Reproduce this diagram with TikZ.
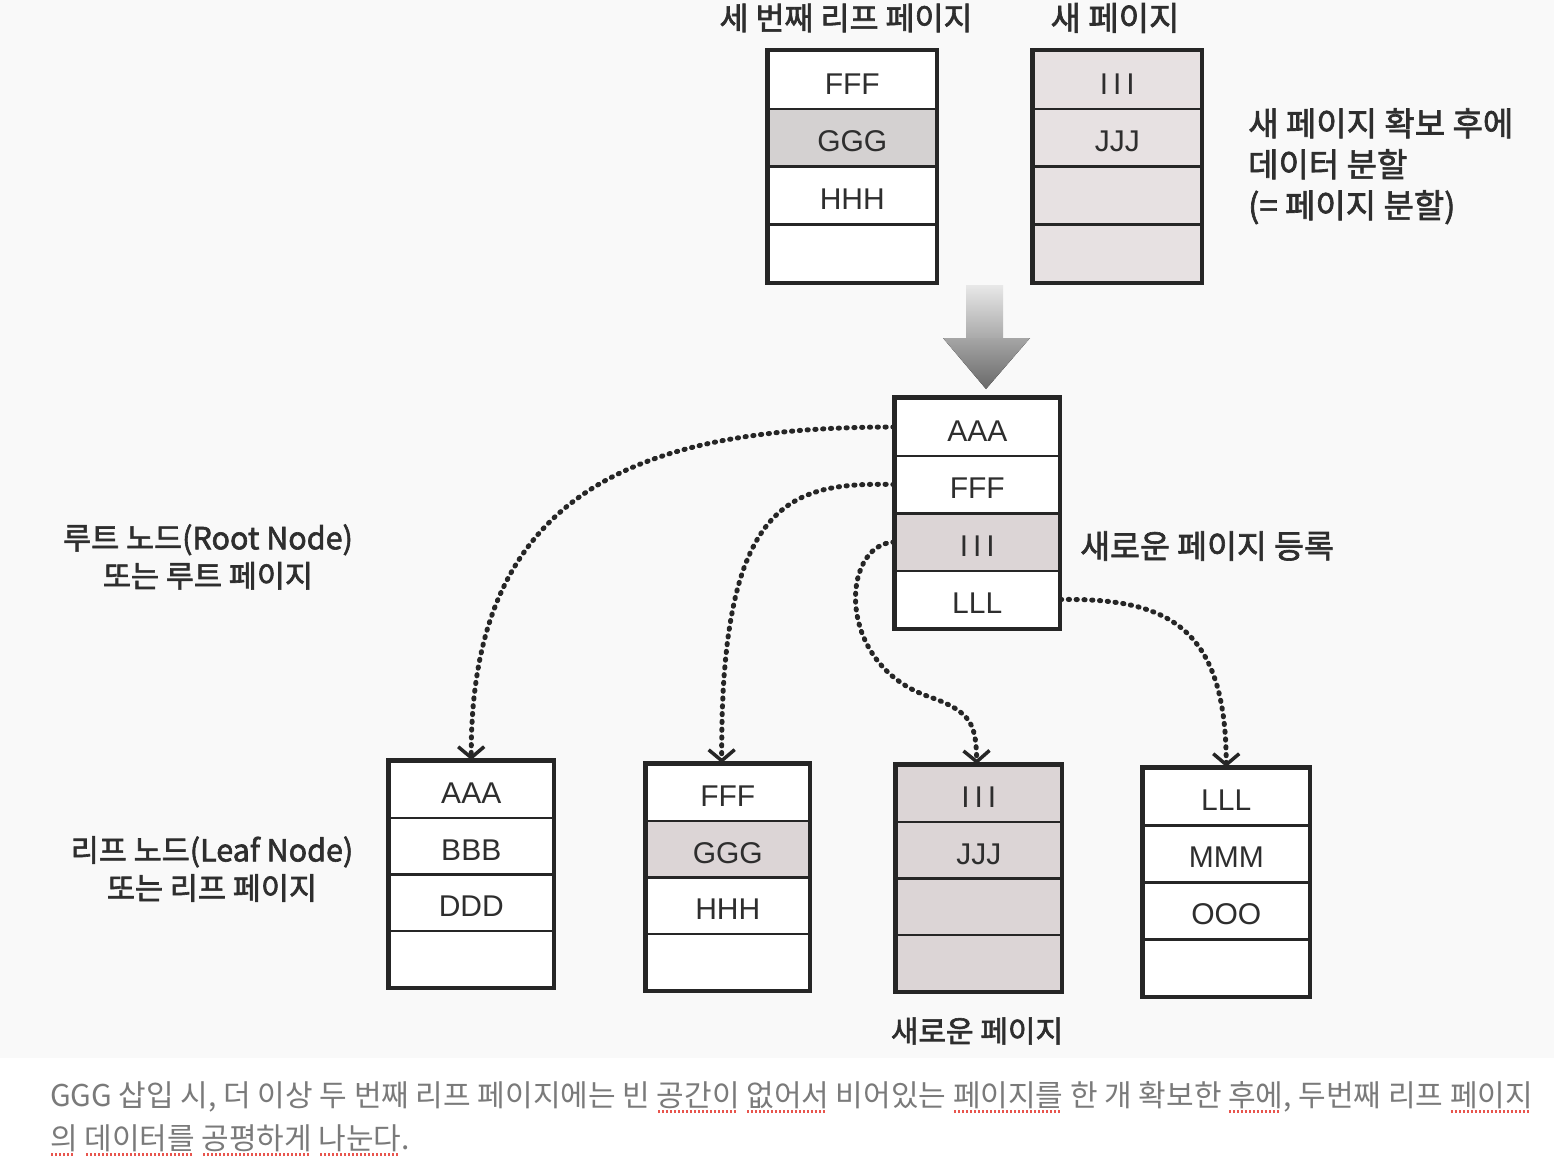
\documentclass[tikz,border=0pt]{standalone}
\usepackage{fontspec}
\usetikzlibrary{arrows.meta}
\setmainfont{Liberation Sans}
\newfontfamily\kr{Noto Sans CJK KR}
\newfontfamily\krb[FakeBold=2]{Noto Sans CJK KR}
\definecolor{ink}{HTML}{262626}
\definecolor{txt}{HTML}{2E2E2E}
\definecolor{gfill}{HTML}{D4D1D1}
\definecolor{pfill}{HTML}{E7E1E2}
\definecolor{pfilltwo}{HTML}{DCD5D6}
\definecolor{scan}{HTML}{F9F9F9}
\definecolor{capgray}{HTML}{7A7A7A}
\definecolor{spell}{HTML}{E8554E}
\newsavebox\rdubox
\newcommand\rdu[1]{\sbox\rdubox{#1}\rlap{\color{spell}\leaders\hbox{\kern1pt\rule[-7pt]{2pt}{2.6pt}\kern1pt}\hskip\wd\rdubox}\usebox\rdubox}
\newcommand\tripleI{I\kern5pt I\kern5pt I}
\newcommand\krsize[1]{\krb\fontsize{#1}{#1}\selectfont}
\tikzset{
  cell/.style={draw=ink, line width=2.5pt, inner sep=0pt, text=txt,
    text height=28pt, text depth=0pt,
    font=\fontsize{30}{30}\selectfont},
  outerbox/.style={draw=ink, line width=3.2pt},
  conn/.style={draw=ink, line width=5pt, line cap=round,
    dash pattern=on 1.2pt off 6.6pt,
    -{Straight Barb[length=11pt,width=26pt,line width=3.5pt]}},
  krlabel/.style={text=txt, inner sep=0pt, font=\krsize{31}},
}
% #1 name, #2 x, #3 y, #4 width, #5 row height, #6 list fill/label
\newcommand\pagebox[6]{%
  \foreach [count=\i] \f/\t in {#6} {
    \node[cell, fill=\f, minimum width=#4, minimum height=#5, anchor=north west]
      (#1-\i) at (#2, {#3+(\i-1)*#5}) {\t};
  }
  \draw[outerbox] (#1-1.north west) rectangle (#1-4.south east);
}
\begin{document}
\begin{tikzpicture}[x=1pt, y=-1pt]
\useasboundingbox (0,0) rectangle (1554,1166);
\fill[scan] (0,0) rectangle (1554,1058);
\fill[white] (0,1058) rectangle (1554,1166);

% top boxes
\node[krlabel, font=\krsize{31.5}] (ttl1) at (846,18) {세 번째 리프 페이지};
\node[krlabel, font=\krsize{33}] (ttl2) at (1115,18) {새 페이지};
\pagebox{t1}{767}{50}{168}{57.75}{white/FFF, gfill/GGG, white/HHH, white/}
\pagebox{t2}{1032}{50}{168}{57.75}{pfill/\tripleI, pfill/JJJ, pfill/, pfill/}
\node[krlabel, anchor=north west, align=left, font=\krb\fontsize{33}{41}\selectfont] (split) at (1248,108)
  {새 페이지 확보 후에\\데이터 분할\\(= 페이지 분할)};

% big arrow
\fill[top color=gray!18, bottom color=gray!68] (966,285) rectangle (1003,339);
\fill[top color=gray!70, bottom color=gray!82!black] (943,338) -- (1030,338) -- (986,389) -- cycle;

% root
\pagebox{r}{894}{397}{164}{57.5}{white/AAA, white/FFF, pfilltwo/\tripleI, white/LLL}
\node[krlabel, anchor=west, font=\krsize{32.5}] (reg) at (1080,546) {새로운 페이지 등록};

% left labels
\node[krlabel, align=center, font=\krb\fontsize{30.5}{38}\selectfont] (rootlbl) at (208,557) {루트 노드(Root Node)\\또는 루트 페이지};
\node[krlabel, align=center, font=\krb\fontsize{30.5}{38}\selectfont] (leaflbl) at (212,869) {리프 노드(Leaf Node)\\또는 리프 페이지};

% leaves
\pagebox{l1}{388}{760}{164}{56.5}{white/AAA, white/BBB, white/DDD, white/}
\pagebox{l2}{645}{763}{163}{56.5}{white/FFF, pfilltwo/GGG, white/HHH, white/}
\pagebox{l3}{895}{764}{165}{56.5}{pfilltwo/\tripleI, pfilltwo/JJJ, pfilltwo/, pfilltwo/}
\pagebox{l4}{1142}{767}{166}{57}{white/LLL, white/MMM, white/OOO, white/}
\node[krlabel, font=\krsize{30}] (newp) at (977,1031) {새로운 페이지};

% connectors
\draw[conn] (r-1.west) .. controls (640,427) and (470,490) .. (l1-1.north);
\draw[conn] (r-2.west) .. controls (790,482) and (720,500) .. ([xshift=-6pt]l2-1.north);
\draw[conn] (r-3.west) .. controls (840,545) and (835,665) .. (930,697)
  .. controls (972,712) and (976,725) .. ([xshift=-2pt]l3-1.north);
\draw[conn] (r-4.east) .. controls (1165,598) and (1226,625) .. (l4-1.north);

% caption
\node[anchor=base west, inner sep=0pt, text=capgray, font=\kr\fontsize{30}{30}\selectfont] (cap1) at (50,1106)
  {GGG 삽입 시, 더 이상 두 번째 리프 페이지에는 빈 \rdu{공간이} \rdu{없어서} 비어있는 \rdu{페이지를} 한 개 확보한 \rdu{후에}, 두번째 리프 \rdu{페이지}};
\node[anchor=base west, inner sep=0pt, text=capgray, font=\kr\fontsize{30}{30}\selectfont] (cap2) at (50,1149)
  {\rdu{의} \rdu{데이터를} \rdu{공평하게} \rdu{나눈다}.};
\end{tikzpicture}
\end{document}
